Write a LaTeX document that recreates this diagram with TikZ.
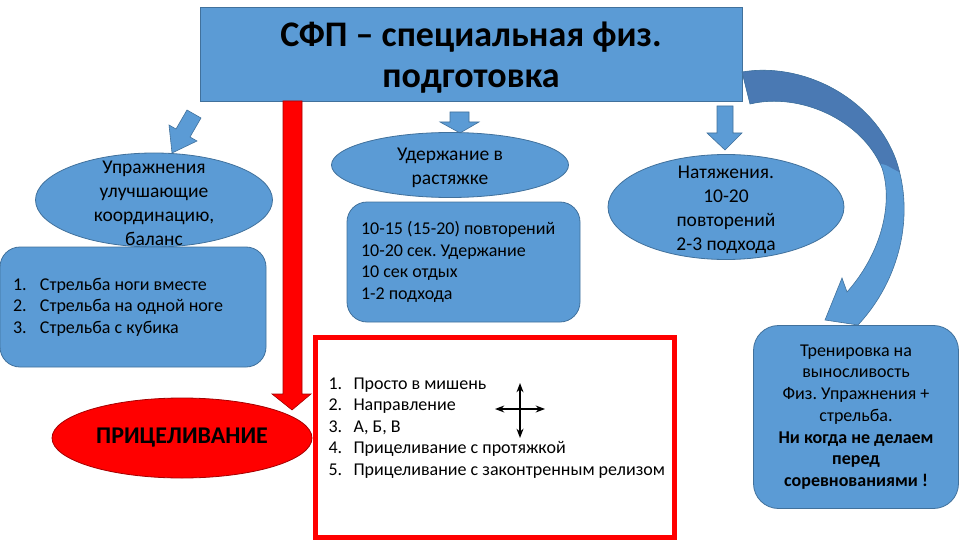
\documentclass[tikz,border=0pt]{standalone}
\usepackage{fontspec}
\setmainfont{Carlito}
\usetikzlibrary{arrows.meta,shapes.geometric}
\frenchspacing

\definecolor{sfpblue}{HTML}{5B9BD5}
\definecolor{sfpedge}{HTML}{41719C}
\definecolor{sfpdark}{HTML}{4A79B3}
\definecolor{aimred}{HTML}{FF0000}
\definecolor{aimedge}{HTML}{A50000}

\begin{document}
\begin{tikzpicture}[x=1pt,y=-1pt,>=Stealth,
    every node/.style={font=\fontsize{18}{21.5}\selectfont},
    oval/.style={ellipse,draw=sfpedge,fill=sfpblue,line width=0.8pt,inner sep=0pt},
    panel/.style={draw=sfpedge,fill=sfpblue,line width=0.8pt,rounded corners=20pt,inner ysep=0pt},
    blk/.style={draw=sfpedge,fill=sfpblue,line width=0.6pt},
    ovaltext/.style={align=center,font=\fontsize{19.5}{24}\selectfont}]
  \useasboundingbox (0,0) rectangle (960,540);

  % Title
  \node[draw=sfpedge,fill=sfpblue,line width=0.8pt,minimum width=542pt,minimum height=94pt]
    (title) at (471,54) {};
  \node[align=center,font=\bfseries\fontsize{36}{41}\selectfont] (titletxt) at (471,58)
    {СФП – специальная физ.\\подготовка};

  % Red arrow down to aiming
  \fill[aimred,draw=aimedge,line width=0.6pt] (283,101) -- (302,101) -- (302,394) -- (311,394)
    -- (292,410) -- (272,394) -- (283,394) -- cycle;

  % Small arrows under the title
  \filldraw[blk] (187,110) -- (201,118) -- (190,137) -- (197,141) -- (172,153) -- (169,125)
    -- (176,129) -- cycle;
  \filldraw[blk] (450,112) -- (469,112) -- (469,122) -- (479,122) -- (460,133) -- (440,122)
    -- (450,122) -- cycle;
  \filldraw[blk] (717,106) -- (733,106) -- (733,133) -- (742,133) -- (725,150) -- (707,133)
    -- (717,133) -- cycle;

  % Curved arrow to endurance
  \begin{scope}
    \clip (742,72) .. controls (800,62) and (872,95) .. (896,160)
      .. controls (915,215) and (900,280) .. (858,325) -- (825,320) -- (842,278) -- (847,292)
      .. controls (880,255) and (894,205) .. (882,168)
      .. controls (862,120) and (800,92) .. (750,104) -- cycle;
    \fill[sfpblue] (730,50) rectangle (960,340);
    \fill[sfpdark] (730,50) -- (960,50) -- (960,205) -- (886,165) -- (730,130) -- cycle;
  \end{scope}
  \draw[sfpedge,line width=0.6pt] (742,72) .. controls (800,62) and (872,95) .. (896,160)
      .. controls (915,215) and (900,280) .. (858,325) -- (825,320) -- (842,278) -- (847,292)
      .. controls (880,255) and (894,205) .. (882,168)
      .. controls (862,120) and (800,92) .. (750,104) -- cycle;

  % Left column
  \node[oval,minimum width=237pt,minimum height=94pt] (coord) at (154,200) {};
  \node[ovaltext] (coordtxt) at (154,203)
    {Упражнения\\улучшающие\\координацию,\\баланс};
  \node[panel,minimum width=266pt,minimum height=120pt,text width=240pt,inner xsep=13pt,
        align=flush left] (legs) at (133,307)
    {\makebox[27pt][l]{1.}Стрельба ноги вместе\\
     \makebox[27pt][l]{2.}Стрельба на одной ноге\\
     \makebox[27pt][l]{3.}Стрельба с кубика};
  \node[ellipse,draw=aimedge,fill=aimred,line width=0.8pt,minimum width=260pt,minimum height=80pt,
        font=\bfseries\fontsize{24}{28}\selectfont] (aim) at (182,438) {ПРИЦЕЛИВАНИЕ};

  % Middle column
  \node[oval,minimum width=237pt,minimum height=65pt] (hold) at (450,165) {};
  \node[ovaltext] (holdtxt) at (450,168) {Удержание в\\растяжке};
  \node[panel,minimum width=233pt,minimum height=120pt,text width=205pt,inner xsep=14pt,
        align=flush left] (reps) at (463.5,262)
    {10-15 (15-20) повторений\\10-20 сек. Удержание\\10 сек отдых\\1-2 подхода};

  % Aiming steps
  \node[draw=aimred,line width=5pt,minimum width=359pt,minimum height=200pt] (steps) at (494.5,437) {};
  \node[anchor=west,align=left] (stepstxt) at (325,428)
    {\makebox[25pt][l]{1.}Просто в мишень\\
     \makebox[25pt][l]{2.}Направление\\
     \makebox[25pt][l]{3.}А, Б, В\\
     \makebox[25pt][l]{4.}Прицеливание с протяжкой\\
     \makebox[25pt][l]{5.}Прицеливание с законтренным релизом};
  \coordinate (top) at (520,383);
  \coordinate (bottom) at (520,438);
  \coordinate (left) at (495,409);
  \coordinate (right) at (545,409);
  \draw[<->,line width=1.4pt] (top) -- (bottom);
  \draw[<->,line width=1.4pt] (left) -- (right);

  % Right column
  \node[oval,minimum width=236pt,minimum height=105pt] (pull) at (726,207) {};
  \node[ovaltext] (pulltxt) at (726,210)
    {Натяжения.\\10-20\\повторений\\2-3 подхода};
  \node[panel,rounded corners=25pt,minimum width=205pt,minimum height=183pt,text width=200pt,
        inner xsep=2pt,align=flush center,font=\fontsize{18}{21.7}\selectfont] (endur) at (856,417)
    {Тренировка на\\выносливость\\Физ. Упражнения +\\стрельба.\\
     \textbf{Ни когда не делаем}\\\textbf{перед}\\\textbf{соревнованиями !}};
\end{tikzpicture}
\end{document}
